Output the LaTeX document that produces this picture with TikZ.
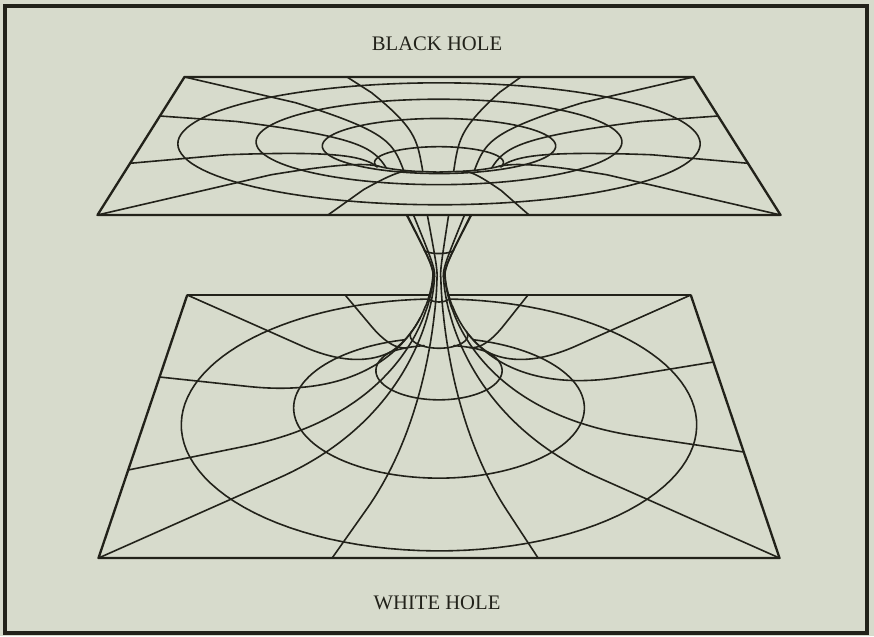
\documentclass[tikz,border=0pt]{standalone}
\usepackage{fontspec}
\setmainfont{Liberation Serif}
\definecolor{paper}{RGB}{215,219,204}
\definecolor{ink}{RGB}{34,34,26}
% parameter on the upper funnel where its visibility index tk falls to #1
\newcommand\TopCut[1]{%
  \xdef\cutlo{0.12}\xdef\cuthi{0.999}%
  \foreach \qi in {1,...,22}{%
    \pgfmathsetmacro\cutmid{(\cutlo+\cuthi)/2}%
    \pgfmathtruncatemacro\cutflag{tk(\cutmid)>(#1)}%
    \ifnum\cutflag=1 \xdef\cutlo{\cutmid}\else\xdef\cuthi{\cutmid}\fi}%
  \xdef\thiscut{\cutlo}}
% parameter on the lower funnel where its visibility index bk rises to #1
\newcommand\BotCut[1]{%
  \xdef\cutlo{0.002}\xdef\cuthi{0.598}%
  \foreach \qi in {1,...,22}{%
    \pgfmathsetmacro\cutmid{(\cutlo+\cuthi)/2}%
    \pgfmathtruncatemacro\cutflag{bk(\cutmid)<(#1)}%
    \ifnum\cutflag=1 \xdef\cutlo{\cutmid}\else\xdef\cuthi{\cutmid}\fi}%
  \xdef\thiscut{\cuthi}}
\begin{document}
\begin{tikzpicture}[x=0.75pt,y=-0.75pt,
  declare function={
    tden(\xu,\xv,\xh)=6.665+0.9728*\xv-0.2315*\xh;
    tX(\xu,\xv,\xh)=439+1943.9*\xu/tden(\xu,\xv,\xh);
    tY(\xu,\xv,\xh)=135.9-1943.9*(0.2315*\xv+0.9728*\xh)/tden(\xu,\xv,\xh);
    bden(\xu,\xv,\xh)=5.362+0.8752*\xv-0.4838*\xh;
    bX(\xu,\xv,\xh)=439+1552.3*\xu/bden(\xu,\xv,\xh);
    bY(\xu,\xv,\xh)=406.8-1552.3*(0.4838*\xv+0.8752*\xh)/bden(\xu,\xv,\xh);
    % upper funnel, depth tdl, radius trho, parameter 0 (rim) .. 1 (neck)
    tdl(\xt)=0.5*\xt*\xt;
    tcone(\xt)=sqrt(0.000441+0.25*(0.5-tdl(\xt))*(0.5-tdl(\xt)));
    trho(\xt)=tcone(\xt)+0.5*exp(-tdl(\xt)/0.0269);
    tq(\xt)=0.25*(0.5-tdl(\xt))/tcone(\xt)+18.587*exp(-tdl(\xt)/0.0269);
    tk(\xt)=(trho(\xt)+tq(\xt)*(1.5429+tdl(\xt)))/6.4837;
    tpx(\xt,\xa)=tX(trho(\xt)*cos(\xa),trho(\xt)*sin(\xa),-tdl(\xt));
    tpy(\xt,\xa)=tY(trho(\xt)*cos(\xa),trho(\xt)*sin(\xa),-tdl(\xt));
    % lower funnel, parameter 0 (neck) .. 1 (rim)
    brho(\xs)=0.02+0.672*\xs^1.6;
    bht(\xs)=0.5*(1-\xs)*(1-\xs);
    bpx(\xs,\xa)=bX(brho(\xs)*cos(\xa),brho(\xs)*sin(\xa),bht(\xs));
    bpy(\xs,\xa)=bY(brho(\xs)*cos(\xa),brho(\xs)*sin(\xa),bht(\xs));
    bsig(\xs)=(1-\xs)/(1.0752*\xs^0.6);
    bk(\xs)=(2.5941-bht(\xs)-bsig(\xs)*brho(\xs))/(4.6928*bsig(\xs));
  },
  gridline/.style={draw=ink,line width=1.2pt,line join=round,line cap=round},
  edgeline/.style={draw=ink,line width=1.75pt,line join=round},
  frameline/.style={draw=ink,line width=2.4pt},
  titletext/.style={font=\fontsize{15.5}{18}\selectfont,text=ink,inner sep=0pt}
]
\useasboundingbox (0,0) rectangle (874,636);
\fill[paper] (0,0) rectangle (874,636);
\draw[frameline] (5,6) rectangle (867,633);

% sheet corners
\coordinate (tFL) at ({tX(-1,1,0)},{tY(-1,1,0)});
\coordinate (tFR) at ({tX(1,1,0)},{tY(1,1,0)});
\coordinate (tNR) at ({tX(1,-1,0)},{tY(1,-1,0)});
\coordinate (tNL) at ({tX(-1,-1,0)},{tY(-1,-1,0)});
\coordinate (bFL) at ({bX(-1,0.918,0)},{bY(-1,0.918,0)});
\coordinate (bFR) at ({bX(1,0.918,0)},{bY(1,0.918,0)});
\coordinate (bNR) at ({bX(1,-0.918,0)},{bY(1,-0.918,0)});
\coordinate (bNL) at ({bX(-1,-0.918,0)},{bY(-1,-0.918,0)});

\def\topedge{-0.3615/1, 0.322/1, -1/0.308, -1/-0.383, 1/0.308, 1/-0.383,
  -0.325/-1, 0.2635/-1, 1/1, -1/1, -1/-1, 1/-1}
\def\botedge{-0.373/0.918, 0.3535/0.918, -1/0.2204, -1/-0.4203, 1/0.3375,
  1/-0.3066, -0.314/-0.918, 0.291/-0.918, 1/0.918, -1/0.918, -1/-0.918, 1/-0.918}

% ---------- lower sheet: parts lying behind the throat
\draw[edgeline] (bFL) -- (bFR);
\draw[gridline] plot[variable=\xa,domain=0:360,samples=120]
  ({bX(0.881*cos(\xa),0.881*sin(\xa),0)},{bY(0.881*cos(\xa),0.881*sin(\xa),0)}) -- cycle;
\draw[gridline] plot[variable=\xa,domain=0:360,samples=120]
  ({bpx(0.81,\xa)},{bpy(0.81,\xa)}) -- cycle;

% the throat hides what is behind it
\fill[paper] plot[variable=\xs,domain=0.598:0.002,samples=60]
    ({bpx(\xs,180-asin(min(1,bk(\xs))))},{bpy(\xs,180-asin(min(1,bk(\xs))))})
  -- plot[variable=\xt,domain=0.999:0.7,samples=40]
    ({tpx(\xt,180+asin(tk(\xt)))},{tpy(\xt,180+asin(tk(\xt)))})
  -- plot[variable=\xt,domain=0.7:0.999,samples=40]
    ({tpx(\xt,-asin(tk(\xt)))},{tpy(\xt,-asin(tk(\xt)))})
  -- plot[variable=\xs,domain=0.002:0.598,samples=60]
    ({bpx(\xs,asin(min(1,bk(\xs))))},{bpy(\xs,asin(min(1,bk(\xs))))}) -- cycle;

% ---------- lower sheet
\draw[edgeline] (bFR) -- (bNR) -- (bNL) -- (bFL);
\foreach \qs in {0.4615,0.258,0.0891}{
  \pgfmathsetmacro\qk{asin(min(1,bk(\qs)))}
  \draw[gridline] plot[variable=\xa,domain=180-\qk:360+\qk,samples=90]
    ({bpx(\qs,\xa)},{bpy(\qs,\xa)});
}
\foreach \qu/\qv in \botedge{
  \pgfmathsetmacro\qa{atan2(\qv,\qu)}
  \BotCut{sin(\qa)}
  \draw[gridline] plot[variable=\xs,domain=\thiscut:1,samples=60]
    ({bpx(\xs,\qa)},{bpy(\xs,\qa)}) -- ({bX(\qu,\qv,0)},{bY(\qu,\qv,0)});
}
% outline of the lower funnel
\draw[gridline] plot[variable=\xs,domain=0.598:0.002,samples=60]
    ({bpx(\xs,180-asin(min(1,bk(\xs))))},{bpy(\xs,180-asin(min(1,bk(\xs))))});
\draw[gridline] plot[variable=\xs,domain=0.598:0.002,samples=60]
    ({bpx(\xs,asin(min(1,bk(\xs))))},{bpy(\xs,asin(min(1,bk(\xs))))});

% ---------- underside of the upper funnel (seen below the upper sheet)
\foreach \qu/\qv in \topedge{
  \pgfmathsetmacro\qa{atan2(\qv,\qu)}
  \pgfmathtruncatemacro\isfront{sin(\qa)<0}
  \ifnum\isfront=1
    \TopCut{abs(sin(\qa))}
    \draw[gridline] plot[variable=\xt,domain=0.999:\thiscut,samples=60]
      ({tpx(\xt,\qa)},{tpy(\xt,\qa)});
  \fi
}
\pgfmathsetmacro\kthroat{asin(tk(0.9))}
\draw[gridline] plot[variable=\xa,domain=180+\kthroat:360-\kthroat,samples=40]
  ({tpx(0.9,\xa)},{tpy(0.9,\xa)});
\draw[gridline] plot[variable=\xt,domain=0.999:0.429,samples=60]
    ({tpx(\xt,180+asin(tk(\xt)))},{tpy(\xt,180+asin(tk(\xt)))});
\draw[gridline] plot[variable=\xt,domain=0.999:0.429,samples=60]
    ({tpx(\xt,-asin(tk(\xt)))},{tpy(\xt,-asin(tk(\xt)))});

% ---------- upper sheet
\fill[paper] (tFL) -- (tFR) -- (tNR) -- (tNL) -- cycle;
\draw[edgeline] (tFL) -- (tFR) -- (tNR) -- (tNL) -- cycle;
\draw[gridline] plot[variable=\xa,domain=0:360,samples=120]
  ({tX(0.888*cos(\xa),0.888*sin(\xa),0)},{tY(0.888*cos(\xa),0.888*sin(\xa),0)}) -- cycle;
\foreach \qt in {0.123,0.245}{
  \draw[gridline] plot[variable=\xa,domain=0:360,samples=120]
    ({tpx(\qt,\xa)},{tpy(\qt,\xa)}) -- cycle;
}
\pgfmathsetmacro\kmouth{asin(tk(0.429))}
\draw[gridline] plot[variable=\xa,domain=-\kmouth:180+\kmouth,samples=80]
  ({tpx(0.429,\xa)},{tpy(0.429,\xa)});
% lip outline of the upper funnel
\TopCut{0.99999}
\let\tapex\thiscut
\draw[gridline] plot[variable=\xt,domain=0.429:\tapex,samples=40]
    ({tpx(\xt,180+asin(min(1,tk(\xt))))},{tpy(\xt,180+asin(min(1,tk(\xt))))})
  -- plot[variable=\xt,domain=\tapex:0.429,samples=40]
    ({tpx(\xt,-asin(min(1,tk(\xt))))},{tpy(\xt,-asin(min(1,tk(\xt))))});
% rays: near side ones end at the lip, far side ones run into the mouth
\foreach \qu/\qv in \topedge{
  \pgfmathsetmacro\qa{atan2(\qv,\qu)}
  \pgfmathtruncatemacro\isfront{sin(\qa)<0}
  \ifnum\isfront=1
    \TopCut{abs(sin(\qa))}
  \else
    \xdef\thiscut{0.429}
  \fi
  \draw[gridline] plot[variable=\xt,domain=\thiscut:0,samples=50]
    ({tpx(\xt,\qa)},{tpy(\xt,\qa)}) -- ({tX(\qu,\qv,0)},{tY(\qu,\qv,0)});
}
\begin{scope}
  \clip plot[variable=\xa,domain=-\kmouth:180+\kmouth,samples=80]
      ({tpx(0.429,\xa)},{tpy(0.429,\xa)})
    -- plot[variable=\xt,domain=0.429:\tapex,samples=40]
      ({tpx(\xt,180+asin(min(1,tk(\xt))))},{tpy(\xt,180+asin(min(1,tk(\xt))))})
    -- plot[variable=\xt,domain=\tapex:0.429,samples=40]
      ({tpx(\xt,-asin(min(1,tk(\xt))))},{tpy(\xt,-asin(min(1,tk(\xt))))}) -- cycle;
  \foreach \qu/\qv in \topedge{
    \pgfmathsetmacro\qa{atan2(\qv,\qu)}
    \pgfmathtruncatemacro\isfront{sin(\qa)<0}
    \ifnum\isfront=0
      \draw[gridline] plot[variable=\xt,domain=0.95:0.429,samples=40]
        ({tpx(\xt,\qa)},{tpy(\xt,\qa)});
    \fi
  }
\end{scope}

% ---------- captions
\node[titletext] (blackhole) at (437,44) {BLACK HOLE};
\node[titletext] (whitehole) at (437,603) {WHITE HOLE};
\end{tikzpicture}
\end{document}
